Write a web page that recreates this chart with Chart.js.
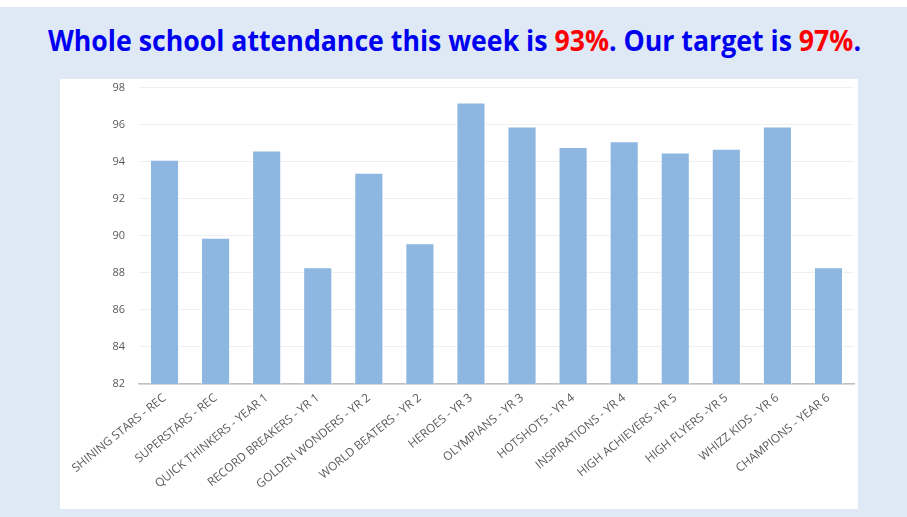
<!DOCTYPE html>
<html>
<head>
<meta charset="utf-8">
<script src="https://cdn.jsdelivr.net/npm/chart.js@4/dist/chart.umd.min.js"></script>
<style>
  html, body { margin: 0; padding: 0; }
  body { width: 907px; height: 517px; background: #ffffff; position: relative; overflow: hidden; }
  #bg { position: absolute; left: 0; top: 7px; width: 907px; height: 510px; background: #dee9f5; }
  #title { position: absolute; left: 48px; top: 23px; white-space: nowrap; font-family: "Open Sans", sans-serif; font-weight: 700; font-size: 28px; line-height: 34px; color: #0000f0; transform-origin: 0 0; }
  #title .red { color: #ff0000; }
  #panel { position: absolute; left: 60px; top: 79px; width: 798px; height: 430px; background: #ffffff; }
  #panel canvas { display: block; }
</style>
</head>
<body>
<div id="bg"></div>
<div id="title">Whole school attendance this week is <span class="red">93%</span>. Our target is <span class="red">97%</span>.</div>
<div id="panel"><canvas id="c" width="798" height="430"></canvas></div>
<script>
const categories = [
  "SHINING STARS - REC", "SUPERSTARS - REC", "QUICK THINKERS - YEAR 1", "RECORD BREAKERS - YR 1",
  "GOLDEN WONDERS - YR 2", "WORLD BEATERS - YR 2", "HEROES - YR 3", "OLYMPIANS - YR 3",
  "HOTSHOTS - YR 4", "INSPIRATIONS - YR 4", "HIGH ACHIEVERS -YR 5", "HIGH FLYERS -YR 5",
  "WHIZZ KIDS - YR 6", "CHAMPIONS - YEAR 6"
];
const attendance = [94.1, 89.9, 94.6, 88.3, 93.4, 89.6, 97.2, 95.9, 94.8, 95.1, 94.5, 94.7, 95.9, 88.3];
const yMin = 82, yMax = 98, yStep = 2;

// fit the title width to the reference
const t = document.getElementById('title');
const w = t.getBoundingClientRect().width;
t.style.transform = 'scaleX(' + (813 / w) + ')';

new Chart(document.getElementById('c'), {
  type: 'bar',
  data: {
    labels: categories,
    datasets: [{
      data: attendance,
      backgroundColor: '#8db7e0',
      borderColor: 'rgba(255,255,255,0.55)',
      borderWidth: 1,
      barPercentage: 0.57,
      categoryPercentage: 1.0
    }]
  },
  options: {
    responsive: false,
    animation: false,
    layout: { padding: { left: 0, right: 4, top: 0, bottom: 0 } },
    plugins: { legend: { display: false }, tooltip: { enabled: false } },
    scales: {
      x: {
        grid: { display: false, drawTicks: false },
        border: { color: '#bfbfbf', width: 1.5 },
        ticks: {
          color: '#595959', font: { family: 'Open Sans', size: 11.8 },
          minRotation: 39, maxRotation: 39, padding: 7, autoSkip: false
        },
        afterFit: s => { s.height = 125; }
      },
      y: {
        min: yMin, max: yMax,
        grid: { color: '#efefef', drawTicks: true, tickLength: 12, tickColor: 'rgba(0,0,0,0)' },
        border: { display: false },
        ticks: { stepSize: yStep, color: '#595959', font: { family: 'Open Sans', size: 11 }, padding: 2 },
        afterFit: s => { s.width = 79; }
      }
    }
  }
});
</script>
</body>
</html>
